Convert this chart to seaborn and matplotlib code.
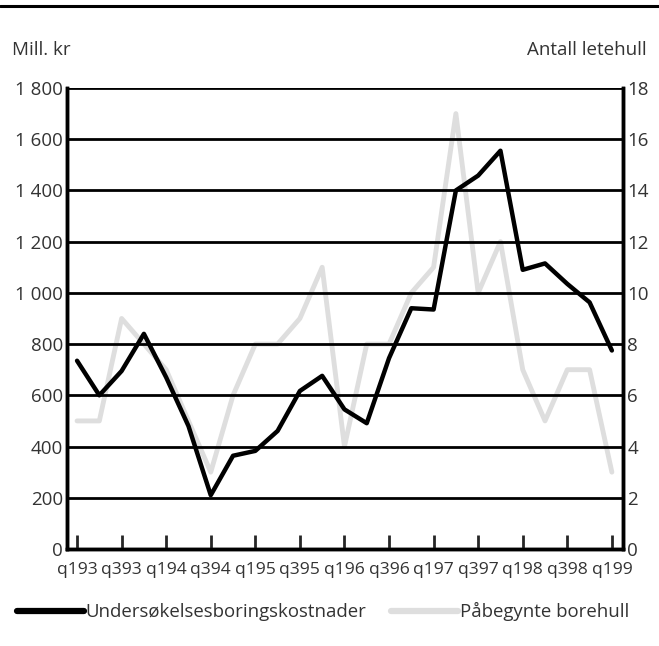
import numpy as np
import pandas as pd
import seaborn as sns
import matplotlib.pyplot as plt
from matplotlib.lines import Line2D
from matplotlib.ticker import FuncFormatter

# quarters q1 93 .. q1 99
quarters = ["q193", "q293", "q393", "q493", "q194", "q294", "q394", "q494",
            "q195", "q295", "q395", "q495", "q196", "q296", "q396", "q496",
            "q197", "q297", "q397", "q497", "q198", "q298", "q398", "q498", "q199"]
kostnader = [735, 600, 695, 840, 670, 480, 210, 364, 383, 461, 617, 676,
             545, 491, 745, 940, 935, 1400, 1458, 1555, 1090, 1115, 1035, 963, 775]
borehull = [5, 5, 9, 8, 7, 5, 3, 6, 8, 8, 9, 11,
            4, 8, 8, 10, 11, 17, 10, 12, 7, 5, 7, 7, 3]

df = pd.DataFrame({"pos": np.arange(len(quarters)), "kost": kostnader, "hull": borehull})

sns.set_style("white")
plt.rcParams['font.family'] = ['Open Sans', 'DejaVu Sans']
txt = "#333333"

fig = plt.figure(figsize=(6.59, 6.46), dpi=100)
ax = fig.add_axes([0.1017, 0.1502, 0.8437, 0.7136])
ax2 = ax.twinx()

sns.lineplot(data=df, x="pos", y="hull", ax=ax2, color="#dedede", lw=3.5)
sns.lineplot(data=df, x="pos", y="kost", ax=ax, color="black", lw=3.2, zorder=5)
ax.set_zorder(ax2.get_zorder() + 1)
ax.patch.set_visible(False)

ax.set_xlim(-0.45, 24.5)
ax.set_ylim(0, 1800)
ax2.set_ylim(0, 18)
ax.set_yticks(range(0, 1801, 200))
ax2.set_yticks(range(0, 19, 2))
ax.yaxis.set_major_formatter(FuncFormatter(lambda v, p: f"{int(v):,}".replace(",", " ")))
ax.set_xticks(range(0, 25, 2))
ax.set_xticklabels(quarters[::2])
for y in range(200, 1801, 200):
    ax.axhline(y, color="black", lw=2, zorder=1)

for a in (ax, ax2):
    a.set_xlabel("")
    a.set_ylabel("")
    for s in a.spines.values():
        s.set_linewidth(2.5)
        s.set_color("black")
    a.spines["top"].set_visible(False)

ax.tick_params(axis="y", length=0, pad=3, labelsize=13.5, labelcolor=txt)
ax2.tick_params(axis="y", length=0, pad=3, labelsize=13.5, labelcolor=txt)
ax.tick_params(axis="x", direction="in", length=10, width=2, pad=9.5,
               labelsize=12.6, labelcolor=txt, bottom=True)
ax2.tick_params(axis="x", bottom=False, labelbottom=False)

fig.add_artist(Line2D([0, 1], [0.991, 0.991], color="black", lw=2.2))
fig.text(0.018, 0.923, "Mill. kr", fontsize=13.5, color=txt, va="center")
fig.text(0.981, 0.923, "Antall letehull", fontsize=13.5, color=txt, va="center", ha="right")

handles = [Line2D([], [], color="black", lw=4.5), Line2D([], [], color="#dedede", lw=4.5)]
fig.legend(handles, ["Undersøkelsesboringskostnader", "Påbegynte borehull"],
           loc="center left", bbox_to_anchor=(0.0, 0.053), ncol=2, frameon=False,
           fontsize=13.4, handlelength=3.6, handletextpad=0.1, columnspacing=1.3,
           labelcolor=txt)

fig.savefig("out.png", dpi=100)
